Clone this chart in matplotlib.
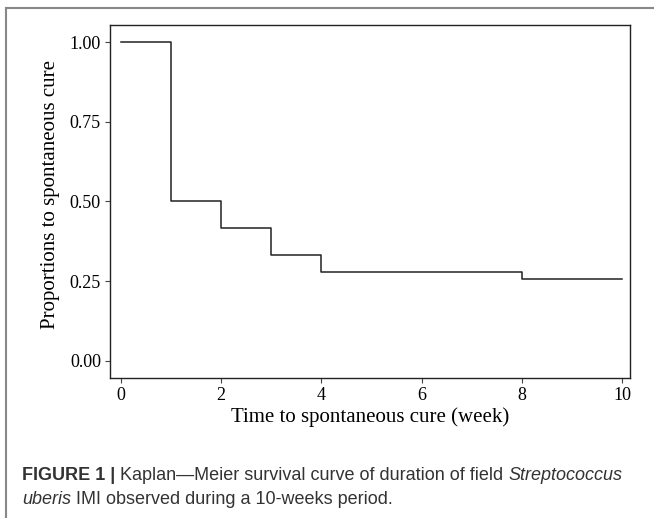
import matplotlib
matplotlib.use("Agg")
import matplotlib.pyplot as plt
from matplotlib.lines import Line2D

# Kaplan-Meier step data
weeks = [0, 1, 2, 3, 4, 8, 10]
surv = [1.00, 0.50, 0.4167, 0.3333, 0.2778, 0.255, 0.255]
x_ticks = [0, 2, 4, 6, 8, 10]
y_ticks = [0.00, 0.25, 0.50, 0.75, 1.00]

W, H = 654, 518
fig = plt.figure(figsize=(W / 100, H / 100), dpi=100)

# axes in pixel coordinates (left, top, right, bottom)
l, t, r, b = 110, 25, 630, 378
ax = fig.add_axes([l / W, 1 - b / H, (r - l) / W, (b - t) / H])

ax.step(weeks, surv, where="post", color="#222222", lw=1.1)
ax.set_xlim(-0.22, 10.16)
ax.set_ylim(-0.055, 1.055)
ax.set_xticks(x_ticks)
ax.set_yticks(y_ticks)
ax.set_yticklabels([f"{v:.2f}" for v in y_ticks])

serif = "Liberation Serif"
for lab in ax.get_xticklabels() + ax.get_yticklabels():
    lab.set_fontfamily(serif)
    lab.set_fontsize(13)
ax.tick_params(direction="out", length=3.5, width=0.8, color="#444444", pad=3)
for s in ax.spines.values():
    s.set_linewidth(1.0)
    s.set_color("#222222")

ax.set_xlabel("Time to spontaneous cure (week)", fontfamily=serif, fontsize=15, labelpad=2)
ax.set_ylabel("Proportions to spontaneous cure", fontfamily=serif, fontsize=15)
ax.yaxis.set_label_coords(-0.096, 0.52)

# outer frame (left and top edges only visible)
fig.add_artist(Line2D([6 / W, 6 / W], [0, 1 - 8 / H], transform=fig.transFigure, color="#888888", lw=1.5))
fig.add_artist(Line2D([6 / W, 1], [1 - 8 / H, 1 - 8 / H], transform=fig.transFigure, color="#888888", lw=1.5))

# caption with mixed styles
sans = "Liberation Sans"
fig.canvas.draw()
rend = fig.canvas.get_renderer()

def put_line(parts, x0, y0):
    x = x0
    for txt, weight, style in parts:
        tt = fig.text(x / W, 1 - y0 / H, txt, fontfamily=sans, fontsize=13,
                      fontweight=weight, fontstyle=style, color="#333333",
                      va="center", ha="left")
        bb = tt.get_window_extent(renderer=rend)
        x += bb.width

put_line([("FIGURE 1 | ", "bold", "normal"),
          ("Kaplan\u2014Meier survival curve of duration of field ", "normal", "normal"),
          ("Streptococcus", "normal", "italic")], 22, 476)
put_line([("uberis", "normal", "italic"),
          (" IMI observed during a 10-weeks period.", "normal", "normal")], 22, 500)

fig.savefig("out.png", dpi=100)
